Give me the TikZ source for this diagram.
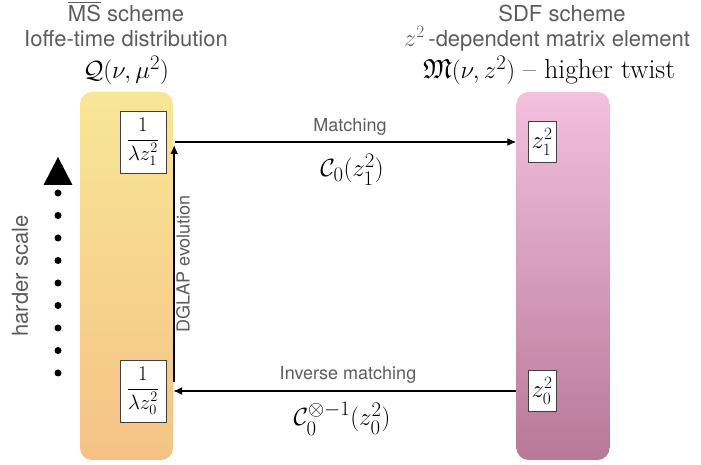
\documentclass[tikz,border=0pt]{standalone}
\usepackage[no-math]{fontspec}
\usepackage{amssymb}
\usetikzlibrary{arrows.meta}
\newfontfamily\heros{TeX Gyre Heros}
\definecolor{txtgray}{RGB}{92,92,92}
\definecolor{qtop}{RGB}{248,230,150}
\definecolor{qbot}{RGB}{245,194,134}
\definecolor{mtop}{RGB}{243,192,222}
\definecolor{mbot}{RGB}{184,120,152}

\begin{document}
\begin{tikzpicture}[x=1pt, y=1pt,
		schemebar/.style={rounded corners=12pt, minimum width=93pt, minimum height=368pt, inner sep=0pt},
		valbox/.style={draw=black!75, fill=white, line width=0.8pt, inner sep=0pt},
		title/.style={font=\heros\fontsize{22}{26}\selectfont, text=txtgray, anchor=base},
		tag/.style={font=\heros\fontsize{18}{22}\selectfont, text=txtgray, anchor=base},
		bigmath/.style={font=\fontsize{27.5}{32}\selectfont, anchor=base},
		flow/.style={line width=1.5pt, -{Latex[length=9pt, width=8pt]}}]

		\useasboundingbox (0, 0) rectangle (701, 465);

		\node [schemebar, top color=qtop, bottom color=qbot] (qbar) at (126.5, 189) {};
		\node [schemebar, top color=mtop, bottom color=mbot] (mbar) at (563, 189) {};

		\node [title] (qname) at (126, 443) {$\overline{\mbox{MS}}$ scheme};
		\node [title] (qkind) at (126, 418) {Ioffe-time distribution};
		\node [bigmath] (qfun) at (126, 386) {$\mathcal{Q}(\nu,\mu^2)$};

		\node [title] (mname) at (562, 443) {SDF scheme};
		\node [title] (mkind) at (547, 418) {{\normalfont\fontsize{27}{30}\selectfont$z^2$}\,-dependent matrix element};
		\node [bigmath] (mfun) at (549, 386) {$\mathfrak{M}(\nu,z^2)$ -- higher twist};

		\node [valbox, minimum width=46pt, minimum height=62pt, font=\fontsize{20}{24}\selectfont] (lam1) at (143, 323) {$\displaystyle\frac{1}{\lambda z_1^2}$};
		\node [valbox, minimum width=46pt, minimum height=62pt, font=\fontsize{20}{24}\selectfont] (lam0) at (143, 74) {$\displaystyle\frac{1}{\lambda z_0^2}$};
		\node [valbox, minimum width=28pt, minimum height=41pt, font=\fontsize{26}{30}\selectfont] (z1) at (542, 323) {$z_1^2$};
		\node [valbox, minimum width=28pt, minimum height=41pt, font=\fontsize{26}{30}\selectfont] (z0) at (542, 74) {$z_0^2$};

		\draw [flow] ([xshift=2pt]qbar.east |- lam1) -- (mbar.west |- z1);
		\draw [flow] (mbar.west |- z0) -- (qbar.east |- lam0);
		\draw [flow] ([xshift=1pt, yshift=9pt]qbar.east |- lam0) -- ([xshift=1pt, yshift=-3pt]qbar.east |- lam1);

		\node [tag] (fwd) at (350, 333) {Matching};
		\node [bigmath] (fwdmath) at (352, 288) {$\mathcal{C}_0(z_1^2)$};
		\node [tag] (bwd) at (348, 85) {Inverse matching};
		\node [bigmath] (bwdmath) at (342, 39) {$\mathcal{C}_0^{\otimes-1}(z_0^2)$};
		\node [tag, anchor=center, rotate=90] (evol) at (183, 201) {DGLAP evolution};

		\node [title, anchor=center, rotate=90] (scale) at (20, 189) {harder scale};
		\coordinate (scalebot) at (58, 92);
		\coordinate (scaletop) at (58, 308);
		\draw [line width=7pt, line cap=round, dash pattern=on 0pt off 22.5pt] (scalebot) -- ++(0, 181);
		\fill (scaletop) -- ++(-14.5, -28) -- ++(29, 0) -- cycle;
	\end{tikzpicture}
\end{document}
